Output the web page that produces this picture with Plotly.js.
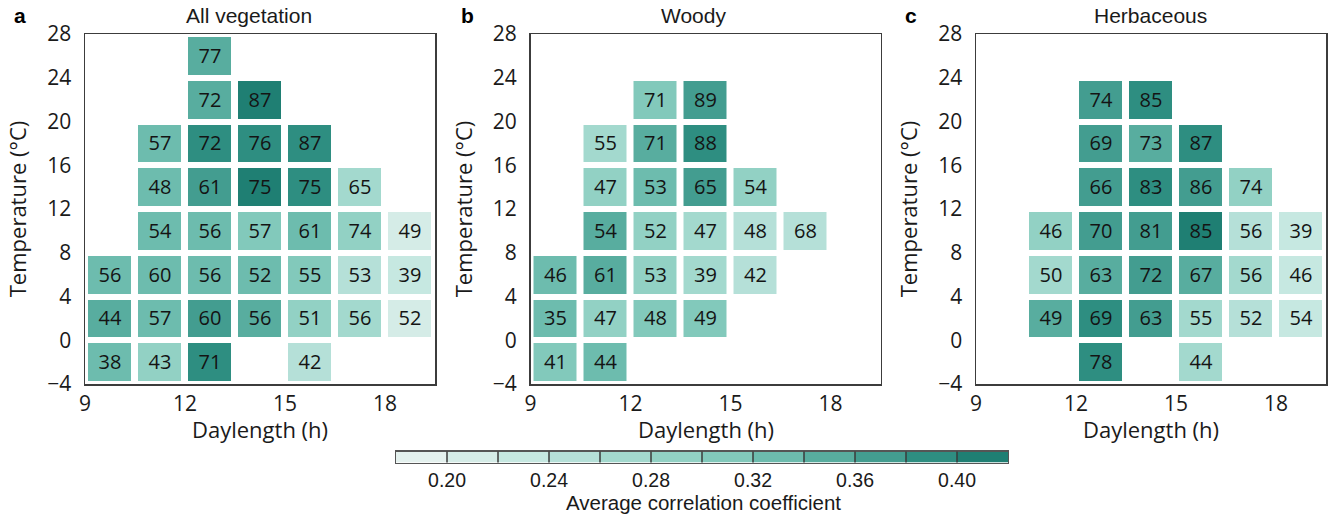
<!DOCTYPE html>
<html>
<head>
<meta charset="utf-8">
<script src="https://cdn.plot.ly/plotly-3.0.1.min.js"></script>
<style>html,body{margin:0;padding:0;background:#fff;}#chart{width:1328px;height:514px;}</style>
</head>
<body>
<div id="chart"></div>
<script>
// ---------- data ----------
const daylength = [9.75, 11.25, 12.75, 14.25, 15.75, 17.25, 18.75];
const temperature = [-2, 2, 6, 10, 14, 18, 22, 26];
const xTickVals = [9, 12, 15, 18];
const yTickVals = [-4, 0, 4, 8, 12, 16, 20, 24, 28];
const panelTitles = ["All vegetation", "Woody", "Herbaceous"];
const panelLetters = ["a", "b", "c"];
const xTitle = "Daylength (h)";
const yTitle = "Temperature (°C)";
const cbTitle = "Average correlation coefficient";

// percentages shown in cells (rows bottom -> top)
const pctAll = [
  [38, 43, 71, null, 42, null, null],
  [44, 57, 60, 56, 51, 56, 52],
  [56, 60, 56, 52, 55, 53, 39],
  [null, 54, 56, 57, 61, 74, 49],
  [null, 48, 61, 75, 75, 65, null],
  [null, 57, 72, 76, 87, null, null],
  [null, null, 72, 87, null, null, null],
  [null, null, 77, null, null, null, null]
];
// average correlation coefficient (cell colour)
const rAll = [
  [0.33, 0.295, 0.39, null, 0.255, null, null],
  [0.345, 0.335, 0.37, 0.34, 0.29, 0.27, 0.21],
  [0.33, 0.335, 0.33, 0.325, 0.31, 0.25, 0.225],
  [null, 0.335, 0.33, 0.31, 0.33, 0.29, 0.21],
  [null, 0.33, 0.37, 0.41, 0.385, 0.27, null],
  [null, 0.33, 0.38, 0.39, 0.395, null, null],
  [null, null, 0.34, 0.41, null, null, null],
  [null, null, 0.345, null, null, null, null]
];

const pctWoody = [
  [41, 44, null, null, null, null, null],
  [35, 47, 48, 49, null, null, null],
  [46, 61, 53, 39, 42, null, null],
  [null, 54, 52, 47, 48, 68, null],
  [null, 47, 53, 65, 54, null, null],
  [null, 55, 71, 88, null, null, null],
  [null, null, 71, 89, null, null, null],
  [null, null, null, null, null, null, null]
];
const rWoody = [
  [0.315, 0.325, null, null, null, null, null],
  [0.33, 0.29, 0.30, 0.31, null, null, null],
  [0.335, 0.34, 0.295, 0.27, 0.25, null, null],
  [null, 0.35, 0.29, 0.27, 0.25, 0.255, null],
  [null, 0.29, 0.335, 0.375, 0.295, null, null],
  [null, 0.275, 0.35, 0.39, null, null, null],
  [null, null, 0.31, 0.37, null, null, null],
  [null, null, null, null, null, null, null]
];

const pctHerb = [
  [null, null, 78, null, 44, null, null],
  [null, 49, 69, 63, 55, 52, 54],
  [null, 50, 63, 72, 67, 56, 46],
  [null, 46, 70, 81, 85, 56, 39],
  [null, null, 66, 83, 86, 74, null],
  [null, null, 69, 73, 87, null, null],
  [null, null, 74, 85, null, null, null],
  [null, null, null, null, null, null, null]
];
const rHerb = [
  [null, null, 0.385, null, 0.265, null, null],
  [null, 0.355, 0.39, 0.36, 0.27, 0.255, 0.235],
  [null, 0.275, 0.355, 0.365, 0.35, 0.275, 0.23],
  [null, 0.29, 0.365, 0.375, 0.405, 0.255, 0.235],
  [null, null, 0.37, 0.395, 0.375, 0.295, null],
  [null, null, 0.375, 0.345, 0.39, null, null],
  [null, null, 0.375, 0.385, null, null, null],
  [null, null, null, null, null, null, null]
];

// colour bar
const cbLevels = [0.19, 0.21, 0.23, 0.25, 0.27, 0.29, 0.31, 0.33, 0.35, 0.37, 0.39, 0.41];
const cbEdges = [0.20, 0.22, 0.24, 0.26, 0.28, 0.30, 0.32, 0.34, 0.36, 0.38, 0.40];
const cbTickVals = [0.20, 0.24, 0.28, 0.32, 0.36, 0.40];
const cbTickText = ["0.20", "0.24", "0.28", "0.32", "0.36", "0.40"];
const cbColors = ["#e4f1ee", "#d5ece7", "#c6e8e1", "#b5e0d8", "#a3d9ce", "#92d1c4",
                  "#82c9bb", "#6dbcae", "#58ad9f", "#439d90", "#2e8e81", "#1f7f73"];
const zMin = 0.18, zMax = 0.42;

// ---------- layout helpers ----------
const W = 1328, H = 514;
const px = x => x / W;
const py = y => 1 - y / H;

const colorscale = [];
cbColors.forEach((c, i) => {
  colorscale.push([i / cbColors.length, c]);
  colorscale.push([(i + 1) / cbColors.length, c]);
});

const mainFont = "Open Sans, Noto Sans, sans-serif";
const arialFont = "Liberation Sans, Arial, sans-serif";

function textOf(m) { return m.map(r => r.map(v => v === null ? "" : String(v))); }

const panels = [
  {pct: pctAll, r: rAll},
  {pct: pctWoody, r: rWoody},
  {pct: pctHerb, r: rHerb}
];
const boxes = [[85, 435], [530.5, 880.5], [976, 1326]];
const boxTop = 34, boxBottom = 384;

const traces = panels.map((p, i) => ({
  type: "heatmap",
  x: daylength, y: temperature, z: p.r,
  text: textOf(p.pct), texttemplate: "%{text}",
  textfont: {family: mainFont, size: 20, color: "#141414"},
  colorscale: colorscale, zmin: zMin, zmax: zMax,
  xgap: 7, ygap: 6, showscale: false, hoverinfo: "skip",
  xaxis: i === 0 ? "x" : "x" + (i + 1),
  yaxis: i === 0 ? "y" : "y" + (i + 1)
}));

traces.push({
  type: "heatmap",
  x: cbLevels, y: [0], z: [cbLevels],
  colorscale: colorscale, zmin: zMin, zmax: zMax,
  showscale: false, hoverinfo: "skip",
  xaxis: "x4", yaxis: "y4"
});

const layout = {
  width: W, height: H,
  margin: {l: 0, r: 0, t: 0, b: 0},
  paper_bgcolor: "#ffffff", plot_bgcolor: "#ffffff",
  showlegend: false,
  annotations: [], shapes: []
};

const titleX = [249, 694, 1150];
const letterX = [20, 467, 911];

boxes.forEach((b, i) => {
  const sx = i === 0 ? "" : String(i + 1);
  layout["xaxis" + sx] = {
    domain: [px(b[0]), px(b[1])], anchor: "y" + sx,
    range: [9, 19.5], tickvals: xTickVals, ticks: "",
    showgrid: false, zeroline: false, showline: true, mirror: true,
    linecolor: "#3c3c3c", linewidth: 1.5,
    tickfont: {family: mainFont, size: 21, color: "#1a1a1a"},
    ticklabelstandoff: 0,
    fixedrange: true
  };
  layout["yaxis" + sx] = {
    domain: [py(boxBottom), py(boxTop)], anchor: "x" + sx,
    range: [-4, 28], tickvals: yTickVals, ticks: "",
    showgrid: false, zeroline: false, showline: true, mirror: true,
    linecolor: "#3c3c3c", linewidth: 1.5,
    tickfont: {family: mainFont, size: 21, color: "#1a1a1a"},
    ticklabelstandoff: 8,
    title: {text: yTitle, font: {family: mainFont, size: 22, color: "#1a1a1a"}, standoff: 14},
    fixedrange: true
  };
  // x-axis title
  layout.annotations.push({
    xref: "paper", yref: "paper", x: px((b[0] + b[1]) / 2), y: py(429),
    xanchor: "center", yanchor: "middle", showarrow: false,
    text: xTitle, font: {family: mainFont, size: 22, color: "#1a1a1a"}
  });
  layout.annotations.push({
    xref: "paper", yref: "paper", x: px(titleX[i]), y: py(15),
    xanchor: "center", yanchor: "middle", showarrow: false,
    text: panelTitles[i], font: {family: arialFont, size: 21, color: "#1a1a1a"}
  });
  layout.annotations.push({
    xref: "paper", yref: "paper", x: px(letterX[i]), y: py(15),
    xanchor: "center", yanchor: "middle", showarrow: false,
    text: "<b>" + panelLetters[i] + "</b>", font: {family: arialFont, size: 21, color: "#000"}
  });
});

layout.xaxis4 = {
  domain: [px(396), px(1008)], anchor: "y4",
  range: [zMin, zMax], tickvals: cbTickVals, ticktext: cbTickText, ticks: "",
  showgrid: false, zeroline: false, showline: true, mirror: true,
  linecolor: "#555", linewidth: 1.2,
  tickfont: {family: arialFont, size: 19.5, color: "#1a1a1a"},
  ticklabelstandoff: 0,
  fixedrange: true
};
layout.yaxis4 = {
  domain: [py(462.5), py(451.5)], anchor: "x4",
  range: [-0.5, 0.5], showticklabels: false, ticks: "",
  showgrid: false, zeroline: false, showline: true, mirror: true,
  linecolor: "#555", linewidth: 1.2, fixedrange: true
};
layout.annotations.push({
  xref: "paper", yref: "paper", x: px(703), y: py(502.5),
  xanchor: "center", yanchor: "middle", showarrow: false,
  text: cbTitle, font: {family: arialFont, size: 20.5, color: "#1a1a1a"}
});
cbEdges.forEach(e => {
  layout.shapes.push({
    type: "line", xref: "x4", yref: "y4 domain", x0: e, x1: e, y0: 0, y1: 1,
    line: {color: "#3a3a3a", width: 1.5}
  });
});

Plotly.newPlot("chart", traces, layout, {displayModeBar: false, staticPlot: true});
</script>
</body>
</html>
